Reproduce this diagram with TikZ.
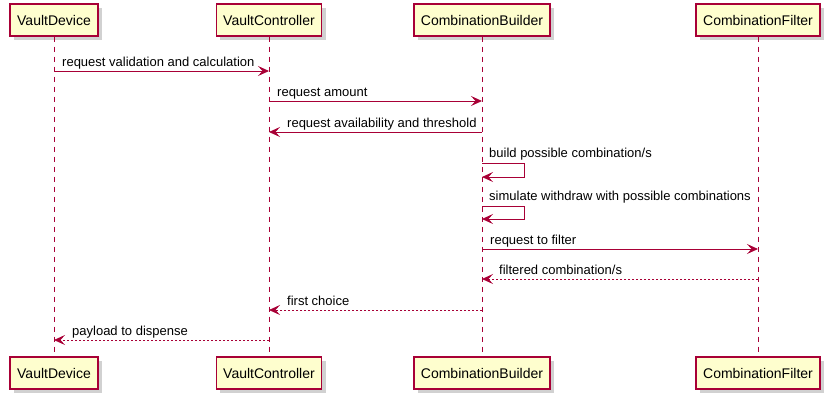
\documentclass[tikz,border=0pt]{standalone}
\usepackage{fontspec}
\setmainfont{Liberation Sans}
\usetikzlibrary{arrows.meta,shadows}

\definecolor{umlred}{HTML}{A80036}
\definecolor{umlfill}{HTML}{FEFECE}

\tikzset{
	actor/.style={draw=umlred,line width=1.4pt,fill=umlfill,minimum height=32pt,inner xsep=7pt,
		font=\fontsize{14}{16}\selectfont,
		drop shadow={shadow xshift=4pt,shadow yshift=-4pt,opacity=0.3,fill=black!60}},
	life/.style={umlred,line width=0.8pt,dash pattern=on 5pt off 5pt},
	msg/.style={umlred,line width=0.9pt,-{Stealth[length=11pt,width=10pt,inset=4.5pt]}},
	reply/.style={msg,dash pattern=on 2pt off 2pt},
	lbl/.style={font=\fontsize{13}{15}\selectfont,inner sep=0pt,anchor=base west}
}

\begin{document}
\begin{tikzpicture}[x=1pt,y=-1pt]
	\useasboundingbox (0,0) rectangle (830,400);
	% participants, oben und unten
	\foreach \n/\t/\x in {vd/VaultDevice/54,vc/VaultController/269,cb/CombinationBuilder/482,cf/CombinationFilter/758}{
		\node[actor] (\n) at (\x,20) {\t};
		\node[actor] (\n-b) at (\x,373) {\t};
		\draw[life] (\n) -- (\n-b);
	}
	% message rows
	\foreach \i/\y in {1/71,2/101,3/132,4/163,5/206,6/249,7/279,8/310,9/340}
	\coordinate (m\i) at (0,\y);
	\coordinate (s4) at (524,163);
	\coordinate (t4) at (524,177);
	\coordinate (s5) at (524,206);
	\coordinate (t5) at (524,219);

	\draw[msg] (vd |- m1) -- (vc |- m1);
	\node[lbl] at (62,66) {request validation and calculation};
	\draw[msg] (vc |- m2) -- (cb |- m2);
	\node[lbl] at (277,96) {request amount};
	\draw[msg] (cb |- m3) -- (vc |- m3);
	\node[lbl] at (287,127) {request availability and threshold};
	\draw[msg] (cb |- m4) -- (s4) -- (t4) -- (cb |- t4);
	\node[lbl] at (489,157) {build possible combination/s};
	\draw[msg] (cb |- m5) -- (s5) -- (t5) -- (cb |- t5);
	\node[lbl] at (489,200) {simulate withdraw with possible combinations};
	\draw[msg] (cb |- m6) -- (cf |- m6);
	\node[lbl] at (490,244) {request to filter};
	\draw[reply] (cf |- m7) -- (cb |- m7);
	\node[lbl] at (499,274) {filtered combination/s};
	\draw[reply] (cb |- m8) -- (vc |- m8);
	\node[lbl] at (287,305) {first choice};
	\draw[reply] (vc |- m9) -- (vd |- m9);
	\node[lbl] at (72,335) {payload to dispense};
\end{tikzpicture}
\end{document}
